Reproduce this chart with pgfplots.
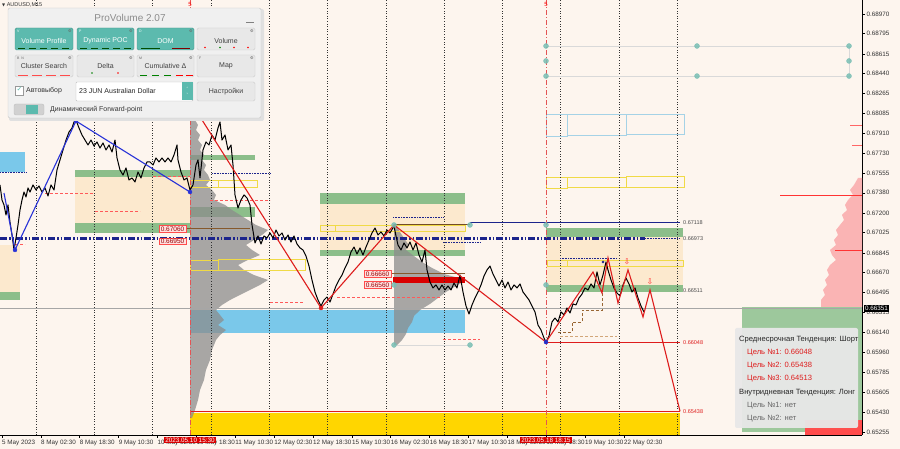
\documentclass[border=0pt]{standalone}
\usepackage{pgfplots}
\pgfplotsset{compat=1.18}
\usepackage{fontspec}
\setmainfont{Liberation Sans}
\newfontfamily\djv{DejaVu Sans}
\newcommand\fs[1]{\fontsize{#1}{#1}\selectfont}

\definecolor{bg}{RGB}{253,245,238}
\definecolor{cream}{RGB}{252,233,206}
\definecolor{zgreen}{RGB}{140,190,138}
\definecolor{zsky}{RGB}{122,200,234}
\definecolor{zgold}{RGB}{255,214,0}
\definecolor{navy}{RGB}{28,36,140}
\definecolor{zz}{RGB}{222,28,28}
\definecolor{bz}{RGB}{40,50,215}
\definecolor{tealdot}{RGB}{120,190,180}
\definecolor{teal2}{RGB}{92,186,174}
\definecolor{lbl}{RGB}{165,210,230}
\definecolor{ylw}{RGB}{240,218,70}
\definecolor{pinkdom}{RGB}{250,180,180}
\definecolor{panel}{RGB}{240,240,240}
\definecolor{btn}{RGB}{232,232,232}
\definecolor{vline}{RGB}{228,84,84}

% style, x1, y1, x2, y2
\newcommand\rect[5]{\addplot[#1] coordinates {(#2,#3)(#4,#3)(#4,#5)(#2,#5)} -- cycle;}

\begin{document}
\begin{tikzpicture}
\fill[bg] (0,-14pt) rectangle (900pt,435pt);
\begin{axis}[
  at={(0,0)}, anchor=south west,
  scale only axis, width=862pt, height=435pt,
  xmin=0, xmax=862, ymin=0.65227, ymax=0.69094,
  axis x line*=bottom, axis y line*=right,
  axis line style={black, line width=0.6pt},
  tick align=outside, major tick length=3pt,
  tick style={black, line width=0.5pt},
  clip=false,
  xtick={2,40.9,79.7,118.6,157.5,196.4,235.2,274.1,313,351.8,390.7,429.6,468.4,507.3,546.2,585,623.9},
  xticklabels={5 May 2023,8 May 02:30,8 May 18:30,9 May 10:30,10 May 02:30,10 May 18:30,11 May 10:30,12 May 02:30,12 May 18:30,15 May 10:30,16 May 02:30,16 May 18:30,17 May 10:30,18 May 02:30,18 May 18:30,19 May 10:30,22 May 02:30},
  xticklabel style={anchor=north west, inner xsep=0pt, inner ysep=1.5pt, font=\fs{6.3}, text=black!80},
  ytick={0.68970,0.68795,0.68615,0.68440,0.68265,0.68085,0.67910,0.67730,0.67555,0.67380,0.67200,0.67025,0.66845,0.66670,0.66495,0.66315,0.66140,0.65960,0.65785,0.65605,0.65430,0.65255},
  yticklabels={0.68970,0.68795,0.68615,0.68440,0.68265,0.68085,0.67910,0.67730,0.67555,0.67380,0.67200,0.67025,0.66845,0.66670,0.66495,0.66315,0.66140,0.65960,0.65785,0.65605,0.65430,0.65255},
  yticklabel style={inner xsep=1.5pt, font=\fs{6.3}, text=black!80},
]

% ---- zones ----
\rect{fill=zgold, draw=none}{190}{0.65422}{680}{0.65227}
\rect{fill=zsky, draw=none}{0}{0.67743}{25}{0.67565}
\rect{fill=zsky, draw=none}{190}{0.66338}{465}{0.66134}
\rect{fill=cream, draw=none}{75}{0.67530}{190}{0.67111}
\rect{fill=cream, draw=none}{0}{0.66916}{20}{0.66498}
\rect{fill=cream, draw=none}{320}{0.67289}{465}{0.66872}
\rect{fill=cream, draw=none}{546}{0.66987}{683}{0.66552}
\rect{fill=zgreen, draw=none}{0}{0.66498}{20}{0.66427}
\rect{fill=zgreen, draw=none}{75}{0.67583}{190}{0.67520}
\rect{fill=zgreen, draw=none}{75}{0.67111}{190}{0.67023}
\rect{fill=zgreen, draw=none}{190}{0.67716}{255}{0.67672}
\rect{fill=zgreen, draw=none}{190}{0.67254}{255}{0.67165}
\rect{fill=zgreen, draw=none}{320}{0.67378}{465}{0.67281}
\rect{fill=zgreen, draw=none}{320}{0.66872}{465}{0.66818}
\rect{fill=zgreen, draw=none}{546}{0.67067}{683}{0.66987}
\rect{fill=zgreen, draw=none}{546}{0.66561}{683}{0.66498}

% right-side DOM
\rect{fill=zgreen!85, draw=none}{742}{0.66365}{862}{0.65254}
\rect{fill=red!70, draw=none}{805}{0.65360}{862}{0.65227}
\addplot[fill=pinkdom, draw=none] coordinates {
 (862,0.67512)(858,0.67512)(854,0.67450)(850,0.67405)(853,0.67361)(848,0.67316)(845,0.67272)(847,0.67227)(842,0.67183)(844,0.67138)(840,0.67094)(836,0.67049)(838,0.67005)(834,0.66960)(836,0.66916)(830,0.66872)(832,0.66827)(836,0.66783)(830,0.66738)(827,0.66694)(829,0.66649)(825,0.66605)(827,0.66561)(823,0.66516)(825,0.66472)(821,0.66427)(821,0.66365)(862,0.66365)} -- cycle;
\addplot[red!80, line width=0.6pt] coordinates {(780,0.67361)(862,0.67361)};
\addplot[red!80, line width=0.6pt] coordinates {(835,0.66872)(862,0.66872)};
\addplot[red!60, line width=0.6pt] coordinates {(850,0.67980)(862,0.67980)};
\addplot[red!60, line width=0.6pt] coordinates {(852,0.67800)(862,0.67800)};

% volume profiles
\addplot[fill=black!45, fill opacity=0.75, draw=none] coordinates {
 (190,0.68098)(192,0.68098)(195,0.68027)(198,0.67983)(196,0.67938)(200,0.67894)(198,0.67849)(202,0.67805)(200,0.67761)(204,0.67716)(202,0.67672)(206,0.67627)(204,0.67583)(208,0.67538)(210,0.67494)(206,0.67450)(212,0.67405)(216,0.67361)(214,0.67316)(225,0.67272)(232,0.67227)(240,0.67183)(248,0.67138)(256,0.67094)(268,0.67049)(262,0.67005)(254,0.66960)(246,0.66916)(252,0.66872)(260,0.66827)(248,0.66783)(238,0.66738)(244,0.66694)(254,0.66649)(268,0.66605)(260,0.66561)(250,0.66516)(240,0.66472)(230,0.66427)(222,0.66383)(216,0.66338)(220,0.66294)(224,0.66249)(218,0.66205)(226,0.66160)(220,0.66116)(216,0.66071)(212,0.65983)(210,0.65894)(206,0.65805)(204,0.65716)(200,0.65627)(198,0.65538)(195,0.65449)(192,0.65378)(190,0.65378)} -- cycle;
\addplot[fill=black!45, fill opacity=0.75, draw=none] coordinates {
 (394,0.67085)(397,0.67085)(400,0.67031)(404,0.66978)(408,0.66925)(406,0.66872)(414,0.66818)(422,0.66765)(432,0.66712)(444,0.66658)(466,0.66605)(456,0.66552)(446,0.66498)(438,0.66445)(430,0.66392)(420,0.66338)(414,0.66285)(412,0.66231)(408,0.66178)(406,0.66125)(402,0.66071)(397,0.66027)(394,0.66027)} -- cycle;

% DOM bar
\rect{fill=red!85!black, draw=none}{393}{0.66632}{465}{0.66578}
\addplot[brown!70!black, line width=0.6pt] coordinates {(390,0.66660)(465,0.66660)};
\addplot[brown!70!black, line width=0.6pt] coordinates {(185,0.67060)(250,0.67060)};

% outlined boxes
\rect{draw=lbl, line width=0.7pt}{546}{0.68081}{567}{0.67885}
\rect{draw=lbl, line width=0.7pt}{567}{0.68081}{626}{0.67894}
\rect{draw=lbl, line width=0.7pt}{626}{0.68081}{684}{0.67903}
\rect{draw=ylw, line width=0.7pt}{546}{0.67520}{567}{0.67423}
\rect{draw=ylw, line width=0.7pt}{567}{0.67520}{626}{0.67432}
\rect{draw=ylw, line width=0.7pt}{626}{0.67529}{684}{0.67432}
\rect{draw=ylw, line width=0.7pt}{320}{0.67094}{335}{0.67040}
\rect{draw=ylw, line width=0.7pt}{335}{0.67094}{465}{0.67040}
\rect{draw=ylw, line width=0.7pt}{190}{0.67494}{218}{0.67432}
\rect{draw=ylw, line width=0.7pt}{218}{0.67494}{257}{0.67432}
\rect{draw=ylw, line width=0.7pt}{190}{0.66783}{218}{0.66694}
\rect{draw=ylw, line width=0.7pt}{218}{0.66792}{305}{0.66694}
\rect{draw=ylw, line width=0.7pt}{547}{0.66783}{567}{0.66729}
\rect{draw=ylw, line width=0.7pt}{567}{0.66783}{683}{0.66729}

% grid
\addplot[black!80, dotted, line width=0.6pt, unbounded coords=jump] coordinates {
 (36,0.65227)(36,0.69094)(36,nan)
 (94.3,0.65227)(94.3,0.69094)(94.3,nan)
 (152.6,0.65227)(152.6,0.69094)(152.6,nan)
 (210.9,0.65227)(210.9,0.69094)(210.9,nan)
 (269.2,0.65227)(269.2,0.69094)(269.2,nan)
 (327.5,0.65227)(327.5,0.69094)(327.5,nan)
 (385.8,0.65227)(385.8,0.69094)(385.8,nan)
 (444.1,0.65227)(444.1,0.69094)(444.1,nan)
 (502.4,0.65227)(502.4,0.69094)(502.4,nan)
 (560.7,0.65227)(560.7,0.69094)(560.7,nan)
 (619,0.65227)(619,0.69094)(619,nan)
 (677.3,0.65227)(677.3,0.69094)};

% short dotted levels
\addplot[red!65, densely dashed, line width=0.5pt] coordinates {(45,0.67378)(93,0.67378)};
\addplot[red!65, densely dashed, line width=0.5pt] coordinates {(95,0.67218)(140,0.67218)};
\addplot[red!65, densely dashed, line width=0.5pt] coordinates {(153,0.67529)(190,0.67529)};
\addplot[red!65, densely dashed, line width=0.5pt] coordinates {(15,0.66925)(25,0.66925)};
\addplot[red!65, densely dashed, line width=0.5pt] coordinates {(210,0.67316)(270,0.67316)};
\addplot[red!65, densely dashed, line width=0.5pt] coordinates {(270,0.66409)(303,0.66409)};
\addplot[red!65, densely dashed, line width=0.5pt] coordinates {(337,0.66454)(442,0.66454)};
\addplot[red!65, densely dashed, line width=0.5pt] coordinates {(443,0.66080)(480,0.66080)};
\addplot[brown!70, densely dashed, line width=0.5pt] coordinates {(560,0.66107)(617,0.66107)};
\addplot[brown!80!black, densely dashed, line width=0.6pt] coordinates {(558,0.66142)(572,0.66142)(572,0.66231)(582,0.66231)(582,0.66338)(602,0.66338)(602,0.66498)};
\addplot[navy, densely dotted, line width=0.6pt] coordinates {(0,0.67565)(26,0.67565)};
\addplot[navy, densely dotted, line width=0.6pt] coordinates {(212,0.67556)(270,0.67556)};
\addplot[navy, densely dotted, line width=0.6pt] coordinates {(393,0.67165)(443,0.67165)};
\addplot[navy, densely dotted, line width=0.6pt] coordinates {(443,0.66942)(480,0.66942)};
\addplot[navy, densely dotted, line width=0.6pt] coordinates {(560,0.66800)(617,0.66800)};

% top right levels
\addplot[black!15, line width=0.6pt] coordinates {(546,0.68685)(849,0.68685)(849,0.68418)(546,0.68418)};

% current price line
\addplot[black!35, line width=0.5pt] coordinates {(0,0.66351)(862,0.66351)};

% key levels
\addplot[navy, line width=2.6pt, dash pattern=on 7pt off 2pt on 1.5pt off 2pt on 1.5pt off 2pt] coordinates {(0,0.66973)(645,0.66973)};
\addplot[navy, line width=0.6pt, densely dotted] coordinates {(645,0.66973)(680,0.66973)};
\addplot[navy, line width=1pt] coordinates {(470,0.67118)(680,0.67118)};
\addplot[brown!60!black, line width=0.6pt] coordinates {(394,0.67103)(470,0.67103)};
\addplot[zz, line width=0.9pt] coordinates {(546,0.66048)(680,0.66048)};
\addplot[zz, line width=0.9pt] coordinates {(190,0.65438)(680,0.65438)};
\addplot[black!15, line width=0.6pt] coordinates {(393,0.66027)(470,0.66027)};

% vertical markers
\addplot[vline, line width=0.8pt, dash pattern=on 5pt off 2pt on 1pt off 2pt] coordinates {(190,0.65227)(190,0.69094)};
\addplot[vline, line width=0.8pt, dash pattern=on 5pt off 2pt on 1pt off 2pt] coordinates {(546,0.65227)(546,0.69094)};

% price
\addplot[black, line width=1pt, line join=round] coordinates {
(0,0.67450)(2,0.67316)(4,0.67272)(6,0.67183)(8,0.67272)(10,0.67120)(12,0.67005)(14,0.66872)(16,0.66978)(18,0.67094)(20,0.67227)(22,0.67316)(24,0.67387)(26,0.67343)(28,0.67423)(30,0.67387)(33,0.67450)(36,0.67405)(39,0.67441)(42,0.67387)(45,0.67423)(48,0.67352)(51,0.67450)(54,0.67405)(57,0.67583)(60,0.67672)(63,0.67761)(66,0.67849)(69,0.67920)(72,0.67956)(74,0.68009)(76,0.68027)
(79,0.67956)(82,0.67894)(85,0.67849)(88,0.67805)(91,0.67849)(94,0.67796)(97,0.67832)(100,0.67778)(103,0.67823)(106,0.67761)(109,0.67805)(112,0.67743)(115,0.67849)(117,0.67690)(120,0.67583)(123,0.67538)(126,0.67601)(129,0.67494)(132,0.67512)(135,0.67476)(138,0.67565)(141,0.67512)(144,0.67601)(147,0.67654)(150,0.67654)(153,0.67627)(156,0.67690)(159,0.67654)(162,0.67690)(165,0.67654)(168,0.67690)(171,0.67654)(174,0.67716)(177,0.67805)(178,0.67672)(181,0.67565)(184,0.67494)(187,0.67512)(190,0.67405)
(193,0.67450)(196,0.67627)(198,0.67672)(200,0.67512)(203,0.67761)(206,0.67832)(209,0.67805)(212,0.67894)(215,0.67849)(218,0.67956)(220,0.68009)(222,0.67849)(225,0.67894)(228,0.67761)(231,0.67805)(233,0.67627)(235,0.67361)(238,0.67245)(241,0.67316)(244,0.67361)(247,0.67334)(250,0.67272)(252,0.67094)(255,0.66934)(258,0.66996)(261,0.66925)(264,0.66996)(267,0.66978)
(270,0.67023)(273,0.66978)(276,0.67049)(279,0.66996)(282,0.67023)(285,0.66960)(288,0.67005)(291,0.66942)(294,0.66996)(297,0.66925)(300,0.66890)(303,0.66872)(306,0.66818)(309,0.66729)(312,0.66605)(315,0.66498)(318,0.66427)(321,0.66374)(324,0.66427)(327,0.66454)(330,0.66409)(333,0.66480)(336,0.66552)(339,0.66605)(342,0.66649)(345,0.66712)(348,0.66765)(351,0.66854)(354,0.66898)(357,0.66836)(360,0.66890)(363,0.66827)(366,0.66898)(369,0.66960)(372,0.67023)(375,0.67067)(378,0.67005)(381,0.67032)(384,0.66996)(387,0.67049)(390,0.67023)(394,0.67085)
(396,0.66996)(398,0.66916)(401,0.66872)(404,0.66934)(407,0.66890)(410,0.66942)(413,0.66872)(416,0.66934)(419,0.66827)(422,0.66765)(425,0.66872)(427,0.66694)(430,0.66587)(433,0.66534)(436,0.66561)(439,0.66516)(442,0.66561)(445,0.66516)(448,0.66552)(451,0.66516)(454,0.66578)(457,0.66534)(460,0.66649)(463,0.66498)(466,0.66374)(469,0.66303)(472,0.66383)(475,0.66445)(478,0.66498)
(481,0.66561)(484,0.66641)(487,0.66694)(490,0.66729)(493,0.66658)(496,0.66605)(499,0.66552)(502,0.66605)(505,0.66534)(508,0.66587)(511,0.66516)(514,0.66561)(517,0.66534)(520,0.66570)(523,0.66498)(526,0.66463)(529,0.66427)(532,0.66374)(535,0.66321)(538,0.66205)(541,0.66160)(544,0.66089)(546,0.66054)
(549,0.66107)(552,0.66232)(555,0.66267)(558,0.66232)(561,0.66321)(564,0.66294)(567,0.66356)(570,0.66312)(573,0.66392)(576,0.66383)(579,0.66445)(582,0.66480)(585,0.66534)(588,0.66516)(591,0.66570)(594,0.66534)(597,0.66676)(600,0.66561)(603,0.66649)(606,0.66765)(608,0.66694)(611,0.66605)(614,0.66534)(617,0.66489)(620,0.66463)(623,0.66561)(626,0.66623)(629,0.66570)(632,0.66498)(635,0.66534)(638,0.66445)(641,0.66374)(644,0.66321)};

% zigzags
\addplot[bz, line width=1.1pt] coordinates {(4,0.67378)(15,0.66872)(76,0.68018)(190,0.67387)};
\addplot[only marks, mark=*, bz, mark size=2pt] coordinates {(15,0.66872)(76,0.68018)(190,0.67387)};
\addplot[zz, line width=1.1pt] coordinates {(197,0.68098)(321,0.66356)(394,0.67094)(546,0.66053)(593,0.66676)(602,0.66489)(608,0.66801)(618,0.66400)(628,0.66694)(643,0.66276)(650,0.66516)(680,0.65438)};
\addplot[only marks, mark=*, zz, mark size=2pt] coordinates {(321,0.66356)};
\addplot[only marks, mark=*, bz!80!navy, mark size=2pt] coordinates {(546,0.66053)};
\addplot[only marks, mark=*, navy, mark size=1.2pt] coordinates {(603,0.66765)};
\addplot[only marks, mark=*, tealdot, mark size=2.5pt, opacity=0.85] coordinates {(394,0.67094)(470,0.67094)(394,0.66561)(394,0.66027)(470,0.66027)(546,0.67094)(546,0.66561)(546,0.68685)(546,0.68552)(546,0.68418)(697,0.68685)(697,0.68418)(849,0.68685)(849,0.68552)(849,0.68418)};

% labels
\node[anchor=west, font=\fs{5.5}, text=black!70, inner sep=1pt] at (axis cs:682,0.67118) {0.67118};
\node[anchor=west, font=\fs{5.5}, text=black!70, inner sep=1pt] at (axis cs:682,0.66973) {0.66973};
\node[anchor=west, font=\fs{5.5}, text=black!70, inner sep=1pt] at (axis cs:682,0.66511) {0.66511};
\node[anchor=west, font=\fs{5.5}, text=zz, inner sep=1pt] at (axis cs:682,0.66048) {0.66048};
\node[anchor=west, font=\fs{5.5}, text=zz, inner sep=1pt] at (axis cs:682,0.65438) {0.65438};
\tikzset{plab/.style={anchor=east, font=\fs{6.5}, text=red!60!black, fill=red!12, draw=red!70, line width=0.5pt, inner xsep=1.5pt, inner ysep=1pt}}
\node[plab] at (axis cs:186,0.67060) {0.67060};
\node[plab] at (axis cs:186,0.66950) {0.66950};
\node[plab] at (axis cs:391,0.66660) {0.66660};
\node[plab] at (axis cs:391,0.66560) {0.66560};
\node[font=\djv\fs{8}, text=red!80] at (axis cs:627,0.66765) {⇩};
\node[font=\djv\fs{8}, text=red!80] at (axis cs:650,0.66587) {⇩};
\node[font=\fs{6}, text=red] at (axis cs:190,0.69050) {5};
\node[font=\fs{6}, text=red] at (axis cs:546,0.69050) {5};
\node[anchor=west, fill=black, text=white, font=\fs{6.3}, inner xsep=1pt, inner ysep=1pt] at (axis cs:864,0.66351) {0.66351};
\node[anchor=north, fill=red!85!black, text=white, font=\fs{6.3}, inner xsep=1.5pt, inner ysep=1pt, yshift=-1.5pt] at (axis cs:190,0.65227) {2023.05.10 15:30};
\node[anchor=north, fill=red!85!black, text=white, font=\fs{6.3}, inner xsep=1.5pt, inner ysep=1pt, yshift=-1.5pt] at (axis cs:546,0.65227) {2023.05.18 18:15};
\end{axis}

% ---- overlays in screen pixels ----
\begin{scope}[shift={(0,435pt)}, x=1pt, y=-1pt]
\node[anchor=west, font=\fs{5.5}, text=black!80, inner sep=0pt] at (2,5) {{\djv\fs{4}▼} AUDUSD,M15};
% panel
\fill[black!12, rounded corners=2pt] (9,9) rectangle (264,121);
\filldraw[fill=panel, draw=black!22, rounded corners=2pt] (8,8) rectangle (261,118);
\node[font=\fs{10}, text=black!45] at (130,18) {ProVolume 2.07};
\draw[black!50, line width=0.8pt] (246,22) -- (254,22);
\tikzset{tb/.style={fill=teal2, draw=teal2!80!black, rounded corners=1.5pt},
         gb/.style={fill=btn, draw=black!20, rounded corners=1.5pt},
         bt/.style={font=\fs{7}}}
\filldraw[tb] (15,28) rectangle (73,50); \node[bt, text=white] at (44,41) {Volume Profile};
\filldraw[tb] (77,28) rectangle (134,50); \node[bt, text=white] at (105.5,41) {Dynamic POC};
\filldraw[tb] (137,28) rectangle (194,50); \node[bt, text=white] at (165.5,41) {DOM};
\filldraw[gb] (197,28) rectangle (255,50); \node[bt, text=black!75] at (226,41) {Volume};
\filldraw[gb] (15,55) rectangle (73,77); \node[bt, text=black!75] at (44,66) {Cluster Search};
\filldraw[gb] (77,55) rectangle (134,77); \node[bt, text=black!75] at (105.5,66) {Delta};
\filldraw[gb] (137,55) rectangle (194,77); \node[bt, text=black!75] at (165.5,66) {Cumulative Δ};
\filldraw[gb] (197,55) rectangle (255,77); \node[bt, text=black!75] at (226,66) {Map};
\node[font=\fs{3.5}, text=white, anchor=west, inner sep=0pt] at (17,31) {V};
\node[font=\fs{3.5}, text=white, anchor=west, inner sep=0pt] at (79,31) {P};
\node[font=\fs{3.5}, text=white, anchor=west, inner sep=0pt] at (139,31) {D};
\node[font=\fs{3.5}, text=black!60, anchor=west, inner sep=0pt] at (17,58) {B\ \ N};
\node[font=\fs{3.5}, text=black!60, anchor=west, inner sep=0pt] at (139,58) {M};
\node[font=\fs{3.5}, text=black!60, anchor=west, inner sep=0pt] at (199,58) {F};
\foreach \xx in {70,131,191,252} {\node[font=\djv\fs{4}, text=black!60, inner sep=0pt] at (\xx,31) {⚙}; \node[font=\djv\fs{4}, text=black!60, inner sep=0pt] at (\xx,58) {⚙};}
\foreach \xx in {18,29,40,51,62} {\draw[green!30!black, line width=0.6pt] (\xx,48) -- (\xx+7,48);}
\foreach \xx in {80,91,102,113,124} {\draw[green!30!black, line width=0.6pt] (\xx,48) -- (\xx+7,48);}
\draw[green!30!black, line width=0.6pt] (141,48) -- (160,48); \draw[red!50!black, line width=0.6pt] (172,48) -- (190,48);
\foreach \xx/\cc in {205/red,220/green!50!black,234/red,248/red} {\fill[\cc] (\xx,47.5) circle (0.9);}
\foreach \xx in {18,32,46,60} {\draw[red!70, line width=0.6pt] (\xx,75) -- (\xx+10,75);}
\fill[green!50!black] (92,73) circle (0.9); \fill[red] (118,73) circle (0.9);
\foreach \xx/\cc in {140/green!50!black,152/green!50!black,164/green!50!black,176/red,186/red} {\draw[\cc, line width=0.6pt] (\xx,75) -- (\xx+7,75);}
% checkbox / combo / settings
\filldraw[fill=white, draw=black!40] (15,86) rectangle (23,95);
\node[font=\djv\fs{7}, text=teal2, inner sep=0pt] at (19.5,89.5) {✓};
\node[bt, text=black!80, anchor=west, inner sep=0pt] at (26,90.5) {Автовыбор};
\filldraw[fill=white, draw=black!25, rounded corners=1pt] (76,82) rectangle (193,101);
\fill[teal2] (182,82.5) rectangle (192.5,100.5);
\node[font=\djv\fs{4}, text=white, inner sep=0pt] at (187.3,88.5) {˄};
\node[font=\djv\fs{4}, text=white, inner sep=0pt] at (187.3,94.5) {˅};
\node[bt, text=black!85, anchor=west, inner sep=0pt] at (79,91.5) {23 JUN Australian Dollar};
\filldraw[gb] (197,82) rectangle (255,101); \node[bt, text=black!75] at (226,91.5) {Настройки};
\filldraw[fill=black!18, draw=black!25, rounded corners=2pt] (14,104) rectangle (44,115);
\fill[teal2] (26,105) rectangle (38,114);
\node[bt, text=black!80, anchor=west, inner sep=0pt] at (50,109.5) {Динамический Forward-point};
% info box
\fill[black!9, opacity=0.95, rounded corners=2pt] (735,328) rectangle (858,428);
\node[font=\fs{7.6}, text=black!85, anchor=west, inner sep=0pt] at (739,340) {Среднесрочная Тенденция: Шорт};
\node[font=\fs{7.6}, text=zz, anchor=west, inner sep=0pt] at (747,353) {Цель №1: 0.66048};
\node[font=\fs{7.6}, text=zz, anchor=west, inner sep=0pt] at (747,366) {Цель №2: 0.65438};
\node[font=\fs{7.6}, text=zz, anchor=west, inner sep=0pt] at (747,379) {Цель №3: 0.64513};
\node[font=\fs{7.6}, text=black!85, anchor=west, inner sep=0pt] at (739,393) {Внутридневная Тенденция: Лонг};
\node[font=\fs{7.6}, text=black!60, anchor=west, inner sep=0pt] at (747,406) {Цель №1: нет};
\node[font=\fs{7.6}, text=black!60, anchor=west, inner sep=0pt] at (747,419) {Цель №2: нет};
\end{scope}
\pgfresetboundingbox
\path[use as bounding box] (0,-14pt) rectangle (900pt,435pt);
\end{tikzpicture}
\end{document}
